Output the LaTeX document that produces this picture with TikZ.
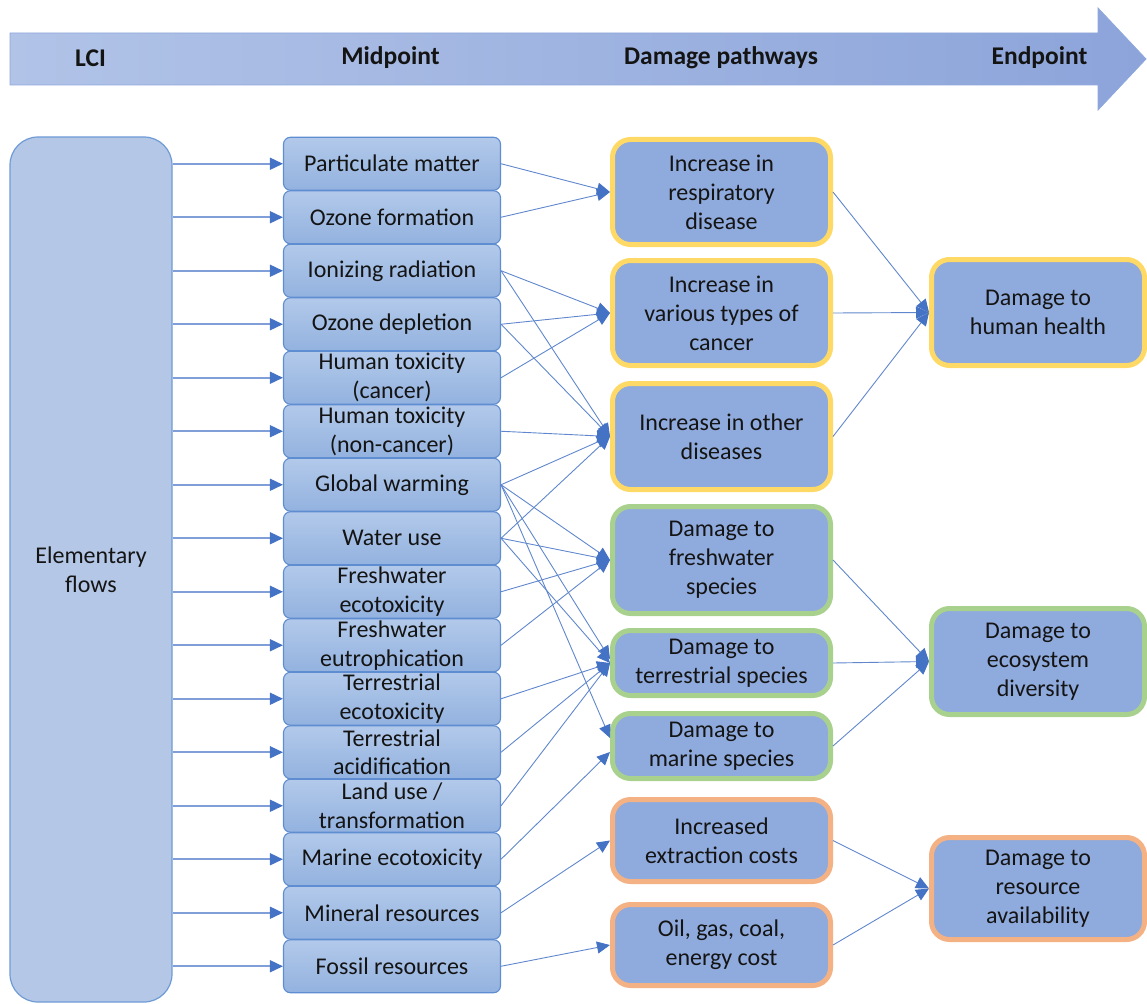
\documentclass[tikz,border=0pt]{standalone}
\usepackage{fontspec}
\setmainfont{Carlito}
\usetikzlibrary{arrows.meta,calc}

\definecolor{txt}{HTML}{141414}
\definecolor{hdrL}{HTML}{B1C3E7}
\definecolor{hdrR}{HTML}{8CA4DA}
\definecolor{hdrEdge}{HTML}{8EA8DC}
\definecolor{lcifill}{HTML}{B4C7E7}
\definecolor{lciedge}{HTML}{6E9BD6}
\definecolor{midtop}{HTML}{B2C9EA}
\definecolor{midbot}{HTML}{93B2DF}
\definecolor{midedge}{HTML}{5F8DD1}
\definecolor{boxfill}{HTML}{8FAADC}
\definecolor{yel}{HTML}{FFD966}
\definecolor{grn}{HTML}{A9D18E}
\definecolor{org}{HTML}{F4B183}
\definecolor{linkc}{HTML}{4472C4}
\definecolor{feedc}{HTML}{809FD8}

\newcommand\diagtext{\fontsize{24}{28.9}\selectfont}

\tikzset{
  hdr/.style={font=\bfseries\fontsize{25.5}{30}\selectfont, text=txt},
  lcibox/.style={draw=lciedge, line width=1.2pt, fill=lcifill, rounded corners=28pt,
    minimum width=162pt, minimum height=865pt, inner sep=0pt, align=center,
    font=\diagtext, text=txt},
  midbox/.style={draw=midedge, line width=1.1pt, rounded corners=7pt,
    top color=midtop, bottom color=midbot, minimum width=217pt, minimum height=53pt,
    inner sep=0pt, align=center, font=\diagtext, text=txt},
  pway/.style={fill=boxfill, line width=5pt, rounded corners=18pt,
    minimum width=218pt, inner sep=0pt, align=center, font=\diagtext, text=txt},
  endbox/.style={pway, minimum width=213pt},
  feed/.style={draw=feedc, line width=1.6pt,
    -{Triangle[length=13pt,width=12pt,color=linkc,fill=linkc]}},
  link/.style={draw=linkc!85!white, line width=0.9pt,
    -{Triangle[length=13pt,width=12pt,color=linkc,fill=linkc]}},
}

\begin{document}
\begin{tikzpicture}[x=1pt,y=-1pt]
\useasboundingbox (0,0) rectangle (1147,1003);

% stage arrow across the top
\path[left color=hdrL, right color=hdrR, draw=hdrEdge, line width=0.8pt]
  (10,33) -- (1098,33) -- (1098,8) -- (1146,59) -- (1098,110) -- (1098,85) -- (10,85) -- cycle;
\node[hdr] (hLCI) at (90.5,58) {LCI};
\node[hdr] (hMid) at (390.5,58) {Midpoint};
\node[hdr] (hPath) at (721,58) {Damage pathways};
\node[hdr] (hEnd) at (1039.5,58) {Endpoint};

% inventory
\node[lcibox] (lci) at (91,569.5) {Elementary\\flows};

% midpoint categories
\node[midbox] (m1)  at (392,163.75) {Particulate matter};
\node[midbox] (m2)  at (392,217.25) {Ozone formation};
\node[midbox] (m3)  at (392,270.75) {Ionizing radiation};
\node[midbox] (m4)  at (392,324.25) {Ozone depletion};
\node[midbox] (m5)  at (392,377.75) {Human toxicity\\(cancer)};
\node[midbox] (m6)  at (392,431.25) {Human toxicity\\(non-cancer)};
\node[midbox] (m7)  at (392,484.75) {Global warming};
\node[midbox] (m8)  at (392,538.25) {Water use};
\node[midbox] (m9)  at (392,591.75) {Freshwater\\ecotoxicity};
\node[midbox] (m10) at (392,645.25) {Freshwater\\eutrophication};
\node[midbox] (m11) at (392,698.75) {Terrestrial\\ecotoxicity};
\node[midbox] (m12) at (392,752.25) {Terrestrial\\acidification};
\node[midbox] (m13) at (392,805.75) {Land use /\\transformation};
\node[midbox] (m14) at (392,859.25) {Marine ecotoxicity};
\node[midbox] (m15) at (392,912.75) {Mineral resources};
\node[midbox] (m16) at (392,966.25) {Fossil resources};

% damage pathways
\node[pway, draw=yel, minimum height=105pt] (p1) at (721.5,192) {Increase in\\respiratory\\disease};
\node[pway, draw=yel, minimum height=105pt] (p2) at (721.5,313) {Increase in\\various types of\\cancer};
\node[pway, draw=yel, minimum height=106pt] (p3) at (721.5,436.5) {Increase in other\\diseases};
\node[pway, draw=grn, minimum height=107pt] (p4) at (721.5,560) {Damage to\\freshwater\\species};
\node[pway, draw=grn, minimum height=65pt] (p5) at (721.5,663) {Damage to\\terrestrial species};
\node[pway, draw=grn, minimum height=65pt] (p6) at (721.5,746) {Damage to\\marine species};
\node[pway, draw=org, minimum height=82pt] (p7) at (721.5,840.5) {Increased\\extraction costs};
\node[pway, draw=org, minimum height=81pt] (p8) at (721.5,945) {Oil, gas, coal,\\energy cost};

% endpoints
\node[endbox, draw=yel, minimum height=106pt] (e1) at (1038,312.5) {Damage to\\human health};
\node[endbox, draw=grn, minimum height=106pt] (e2) at (1038,661.5) {Damage to\\ecosystem\\diversity};
\node[endbox, draw=org, minimum height=102pt] (e3) at (1038,888.5) {Damage to\\resource\\availability};

% inventory to midpoints
\foreach \i in {1,...,16}
  \draw[feed] (lci.east |- m\i) -- (m\i.west);

% midpoints to damage pathways
\draw[link] (m1.east) -- (p1.west);
\draw[link] (m2.east) -- (p1.west);
\draw[link] (m3.east) -- (p2.west);
\draw[link] (m3.east) -- (p3.west);
\draw[link] (m4.east) -- (p2.west);
\draw[link] (m4.east) -- (p3.west);
\draw[link] (m5.east) -- (p2.west);
\draw[link] (m6.east) -- (p3.west);
\draw[link] (m7.east) -- (p3.west);
\draw[link] (m7.east) -- (p4.west);
\draw[link] (m7.east) -- ([yshift=4pt]p5.west);
\draw[link] (m7.east) -- ([yshift=8pt]p6.west);
\draw[link] (m8.east) -- (p3.west);
\draw[link] (m8.east) -- (p4.west);
\draw[link] (m8.east) -- (p5.west);
\draw[link] (m9.east) -- (p4.west);
\draw[link] (m10.east) -- (p4.west);
\draw[link] (m11.east) -- (p5.west);
\draw[link] (m12.east) -- (p5.west);
\draw[link] (m13.east) -- (p5.west);
\draw[link] (m14.east) -- ([yshift=-6pt]p6.west);
\draw[link] (m15.east) -- (p7.west);
\draw[link] (m16.east) -- (p8.west);

% damage pathways to endpoints
\draw[link] (p1.east) -- (e1.west);
\draw[link] (p2.east) -- (e1.west);
\draw[link] (p3.east) -- (e1.west);
\draw[link] (p4.east) -- (e2.west);
\draw[link] (p5.east) -- (e2.west);
\draw[link] (p6.east) -- (e2.west);
\draw[link] (p7.east) -- (e3.west);
\draw[link] (p8.east) -- (e3.west);
\end{tikzpicture}
\end{document}
